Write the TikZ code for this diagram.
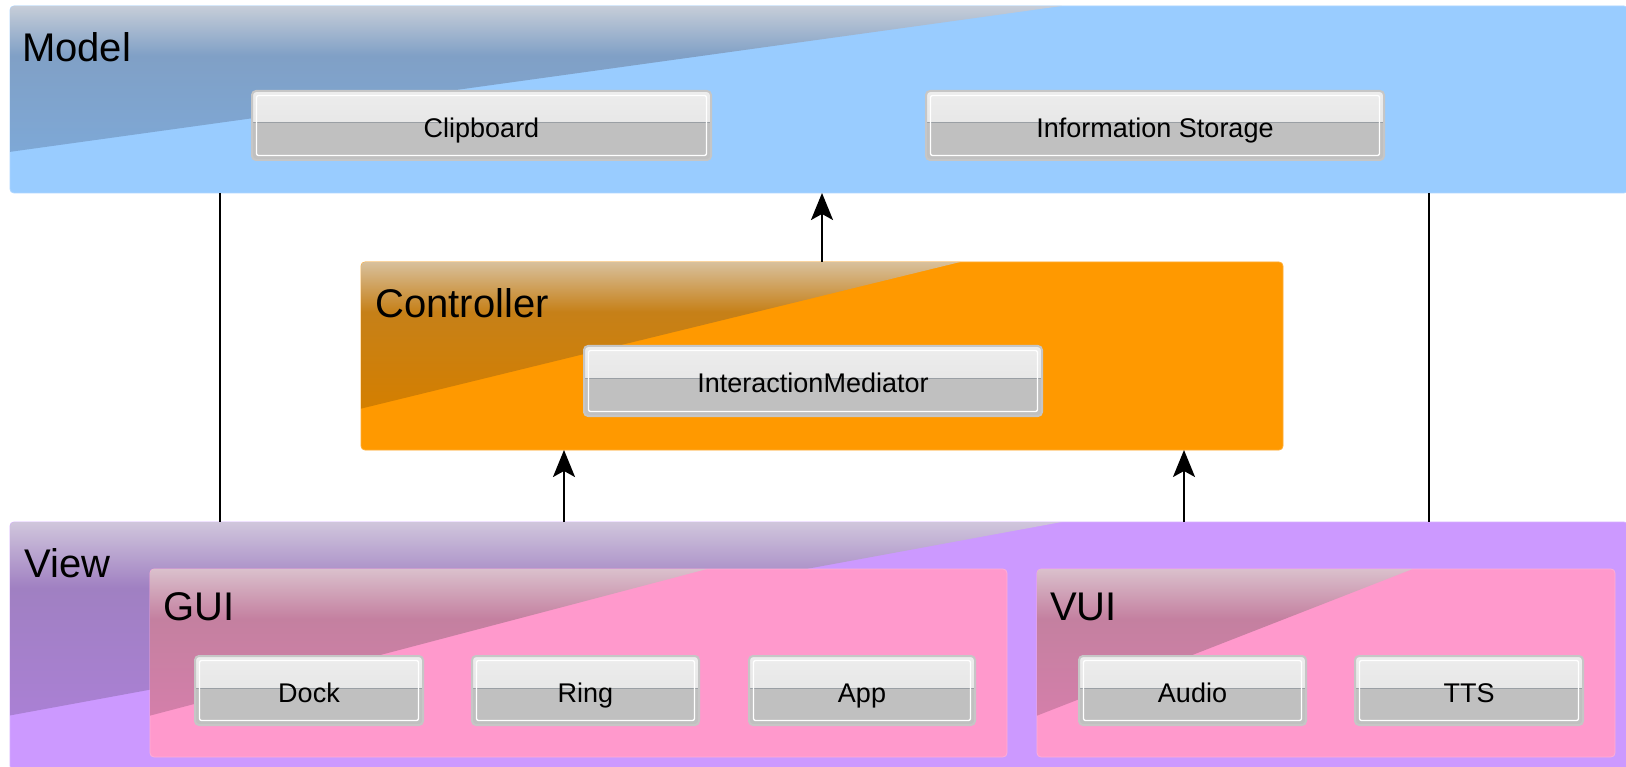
\documentclass[tikz,border=0pt]{standalone}
\usepackage{fontspec}
\setmainfont{Liberation Sans}
\usetikzlibrary{arrows.meta,calc}
\definecolor{modelblue}{HTML}{99CCFF}
\definecolor{ctrlorange}{HTML}{FF9900}
\definecolor{viewpurple}{HTML}{CC99FF}
\definecolor{uipink}{HTML}{FF99CC}
\definecolor{btntop}{HTML}{EDEDED}
\definecolor{btnmid}{HTML}{E0E0E0}
\definecolor{btnbot}{HTML}{C0C0C0}
\definecolor{btnedge}{HTML}{C6C6C6}
\definecolor{btnsep}{HTML}{9A9FA4}
% gloss colours
\definecolor{mgT}{RGB}{198,205,216}\definecolor{mgM}{RGB}{128,160,198}\definecolor{mgB}{RGB}{126,168,214}
\definecolor{cgT}{RGB}{216,192,156}\definecolor{cgM}{RGB}{198,128,24}\definecolor{cgB}{RGB}{212,127,0}
\definecolor{vgT}{RGB}{208,198,220}\definecolor{vgM}{RGB}{160,128,194}\definecolor{vgB}{RGB}{170,128,212}
\definecolor{ugT}{RGB}{218,192,204}\definecolor{ugM}{RGB}{196,128,160}\definecolor{ugB}{RGB}{212,127,170}
\pgfdeclareverticalshading{mgloss}{100bp}{color(0bp)=(mgB); color(25bp)=(mgB); color(58bp)=(mgM); color(75bp)=(mgT); color(100bp)=(mgT)}
\pgfdeclareverticalshading{cgloss}{100bp}{color(0bp)=(cgB); color(25bp)=(cgB); color(58bp)=(cgM); color(75bp)=(cgT); color(100bp)=(cgT)}
\pgfdeclareverticalshading{vgloss}{100bp}{color(0bp)=(vgB); color(25bp)=(vgB); color(58bp)=(vgM); color(75bp)=(vgT); color(100bp)=(vgT)}
\pgfdeclareverticalshading{ugloss}{100bp}{color(0bp)=(ugB); color(25bp)=(ugB); color(58bp)=(ugM); color(75bp)=(ugT); color(100bp)=(ugT)}
\newcommand\glossbox[2]{%
  \begin{scope}
    \clip[rounded corners=4pt] (#1.north west) rectangle (#1.south east);
    \shade[shading=#2]
      (#1.north west) -- ($(#1.north west)!0.65!(#1.north east)$)
      -- ($(#1.north west)!0.78!(#1.south west)$) -- cycle;
  \end{scope}}
\begin{document}
\begin{tikzpicture}[x=1pt,y=-1pt,
  container/.style={rounded corners=4pt, fill=#1, draw=#1!80!white, line width=0.8pt,
    anchor=north west, inner sep=0pt, outer sep=0pt},
  biglabel/.style={anchor=base west, inner sep=0pt, font=\fontsize{40}{48}\selectfont},
  btn/.style={anchor=north west, rounded corners=4pt, draw=btnedge, line width=2pt,
    fill=btnbot, inner sep=0pt, outer sep=0pt, text height=23.5pt, text depth=0pt,
    font=\fontsize{27}{32}\selectfont,
    minimum height=69pt,
    path picture={
      \fill[sharp corners, top color=btntop, bottom color=btnmid]
        (path picture bounding box.north west) rectangle ([yshift=2.5pt]path picture bounding box.east);
      \draw[sharp corners, btnsep, line width=1pt]
        ([yshift=2.5pt]path picture bounding box.west) -- ([yshift=2.5pt]path picture bounding box.east);
      \draw[white, line width=1.3pt, rounded corners=2pt]
        ([shift={(4.5pt,-4.5pt)}]path picture bounding box.north west) rectangle
        ([shift={(-4.5pt,4.5pt)}]path picture bounding box.south east);
    }},
  conn/.style={line width=2pt, black},
  arr/.style={conn, -{Stealth[length=27pt,width=22pt,inset=6pt]}},
]
\useasboundingbox (0,0) rectangle (1626,767);
\fill[white] (0,0) rectangle (1626,767);

% ---------- containers ----------
\node[container=modelblue, minimum width=1618pt, minimum height=187pt] (model) at (10,6) {};
\glossbox{model}{mgloss}
\node[biglabel] (modellbl) at (22,62) {Model};

\node[container=ctrlorange, minimum width=922pt, minimum height=188pt] (controller) at (361,262) {};
\glossbox{controller}{cgloss}
\node[biglabel] (ctrllbl) at (375,318) {Controller};

\node[container=viewpurple, minimum width=1618pt, minimum height=248pt] (view) at (10,522) {};
\glossbox{view}{vgloss}
\node[biglabel] (viewlbl) at (24,577) {View};

\node[container=uipink, minimum width=857pt, minimum height=188pt] (gui) at (150,569) {};
\glossbox{gui}{ugloss}
\node[biglabel] (guilbl) at (163,620) {GUI};

\node[container=uipink, minimum width=578pt, minimum height=188pt] (vui) at (1037,569) {};
\glossbox{vui}{ugloss}
\node[biglabel] (vuilbl) at (1050,620) {VUI};

% ---------- buttons ----------
\node[btn, minimum width=459pt] (clipboard) at (252,91) {Clipboard};
\node[btn, minimum width=458pt] (storage) at (926,91) {Information Storage};
\node[btn, minimum width=458pt, minimum height=70pt] (mediator) at (584,346) {InteractionMediator};
\node[btn, minimum width=228pt] (dock) at (195,656) {Dock};
\node[btn, minimum width=227pt] (ring) at (472,656) {Ring};
\node[btn, minimum width=226pt] (app) at (749,656) {App};
\node[btn, minimum width=227pt] (audio) at (1079,656) {Audio};
\node[btn, minimum width=228pt] (tts) at (1355,656) {TTS};

% ---------- connectors ----------
\coordinate (lineL) at (220,0);
\coordinate (lineR) at (1429,0);
\coordinate (upL) at (564,0);
\coordinate (upR) at (1184,0);
\draw[conn] (model.south -| lineL) -- (view.north -| lineL);
\draw[conn] (model.south -| lineR) -- (view.north -| lineR);
\draw[arr] (controller.north) -- (controller.north |- model.south);
\draw[arr] (view.north -| upL) -- (controller.south -| upL);
\draw[arr] (view.north -| upR) -- (controller.south -| upR);
\end{tikzpicture}
\end{document}
